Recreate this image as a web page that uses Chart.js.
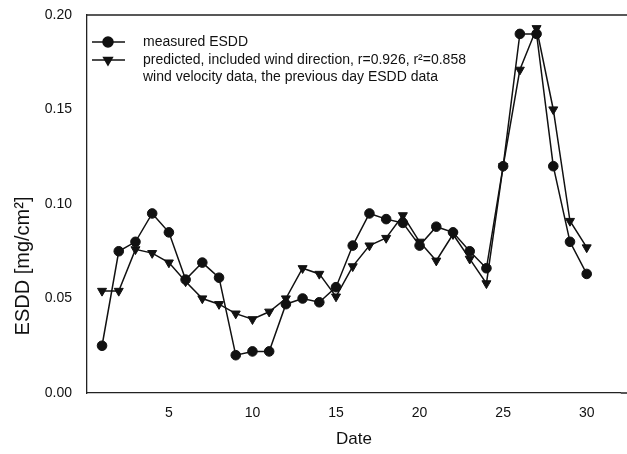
<!DOCTYPE html>
<html>
<head>
<meta charset="utf-8">
<script src="https://cdn.jsdelivr.net/npm/chart.js@4.4.1/dist/chart.umd.min.js"></script>
<style>
  html, body { margin: 0; padding: 0; background: #fff; overflow: hidden; }
  #wrap { position: relative; width: 627px; height: 454px; }
</style>
</head>
<body>
<div id="wrap"><canvas id="chart"></canvas></div>
<script>
const days = [1, 2, 3, 4, 5, 6, 7, 8, 9, 10, 11, 12, 13, 14, 15, 16, 17, 18, 19, 20, 21, 22, 23, 24, 25, 26, 27, 28, 29, 30];
const measured = [0.025, 0.075, 0.080, 0.095, 0.085, 0.060, 0.069, 0.061, 0.020, 0.022, 0.022, 0.047, 0.050, 0.048, 0.056, 0.078, 0.095, 0.092, 0.090, 0.078, 0.088, 0.085, 0.075, 0.066, 0.120, 0.190, 0.190, 0.120, 0.080, 0.063];
const predicted = [0.054, 0.054, 0.076, 0.074, 0.069, 0.059, 0.050, 0.047, 0.042, 0.039, 0.043, 0.050, 0.066, 0.063, 0.051, 0.067, 0.078, 0.082, 0.094, 0.080, 0.070, 0.084, 0.071, 0.058, 0.120, 0.171, 0.193, 0.150, 0.091, 0.077];
const xTicks = [5, 10, 15, 20, 25, 30];
const yTicks = [0, 0.05, 0.10, 0.15, 0.20];
const yTitle = "ESDD [mg/cm\u00b2]";

const legendItems = [
  { lines: ["measured ESDD"], style: "circle", rotation: 0 },
  { lines: ["predicted, included wind direction, r=0.926, r\u00b2=0.858", "wind velocity data, the previous day ESDD data"], style: "triangle", rotation: 180 }
];

const FONT = "'Liberation Sans', Arial, sans-serif";

// frame lines running to the edge, y title and the inset legend
const framePlugin = {
  id: "frame",
  afterDraw(chart) {
    const { ctx, chartArea } = chart;
    ctx.save();
    ctx.strokeStyle = "#222";
    ctx.lineWidth = 1.3;
    ctx.beginPath();
    ctx.moveTo(chartArea.left, chartArea.top);
    ctx.lineTo(chart.width, chartArea.top);
    ctx.moveTo(chartArea.right, chartArea.bottom);
    ctx.lineTo(chart.width, chartArea.bottom);
    ctx.stroke();

    ctx.fillStyle = "#111";
    ctx.save();
    ctx.translate(23, 266);
    ctx.rotate(-Math.PI / 2);
    ctx.font = "20px " + FONT;
    ctx.textAlign = "center";
    ctx.textBaseline = "middle";
    ctx.fillText(yTitle, 0, 0);
    ctx.restore();

    let y = 42;
    const x0 = chartArea.left + 5;
    ctx.font = "14px " + FONT;
    ctx.textBaseline = "middle";
    legendItems.forEach((item) => {
      ctx.strokeStyle = "#111";
      ctx.lineWidth = 1.5;
      ctx.beginPath();
      ctx.moveTo(x0, y);
      ctx.lineTo(x0 + 33, y);
      ctx.stroke();
      ctx.fillStyle = "#111";
      Chart.helpers.drawPoint(ctx, { pointStyle: item.style, radius: 5, rotation: item.rotation, borderWidth: 1 }, x0 + 16, y);
      item.lines.forEach((t, i) => {
        ctx.fillText(t, x0 + 51, y + i * 17);
      });
      y += 18;
    });
    ctx.restore();
  }
};

new Chart(document.getElementById("chart"), {
  type: "line",
  data: {
    datasets: [
      {
        label: "measured ESDD",
        data: days.map((d, i) => ({ x: d, y: measured[i] })),
        borderColor: "#111",
        backgroundColor: "#111",
        borderWidth: 1.5,
        pointStyle: "circle",
        pointRadius: 4.8,
        pointBorderWidth: 1,
        tension: 0
      },
      {
        label: "predicted",
        data: days.map((d, i) => ({ x: d, y: predicted[i] })),
        borderColor: "#111",
        backgroundColor: "#111",
        borderWidth: 1.5,
        pointStyle: "triangle",
        pointRotation: 180,
        pointRadius: 5.2,
        pointBorderWidth: 1,
        tension: 0
      }
    ]
  },
  options: {
    responsive: true,
    maintainAspectRatio: false,
    animation: false,
    layout: { padding: { top: 15, right: 0, left: 0, bottom: 0 } },
    plugins: {
      legend: { display: false },
      tooltip: { enabled: false }
    },
    scales: {
      x: {
        type: "linear",
        min: 0.1,
        max: 32.04,
        afterBuildTicks(scale) { scale.ticks = xTicks.map((v) => ({ value: v })); },
        afterFit(scale) { scale.height = 61; },
        grid: { display: false, drawTicks: true, tickLength: 5, tickColor: "#222" },
        border: { display: true, color: "#222", width: 1.3 },
        ticks: { color: "#111", font: { family: FONT, size: 14 }, padding: 7, maxRotation: 0 },
        title: { display: true, text: "Date", color: "#111", font: { family: FONT, size: 17 }, padding: { top: 3 } }
      },
      y: {
        min: 0,
        max: 0.2,
        afterBuildTicks(scale) { scale.ticks = yTicks.map((v) => ({ value: v })); },
        afterFit(scale) {
          scale.width = 87;
          scale.paddingTop = 0;
          scale.paddingBottom = 0;
        },
        grid: { display: false, drawTicks: true, tickLength: 5, tickColor: "#222" },
        border: { display: true, color: "#222", width: 1.3 },
        ticks: { color: "#111", font: { family: FONT, size: 14 }, padding: 10, callback: (v) => v.toFixed(2) },
        title: { display: false }
      }
    }
  },
  plugins: [framePlugin]
});
</script>
</body>
</html>
